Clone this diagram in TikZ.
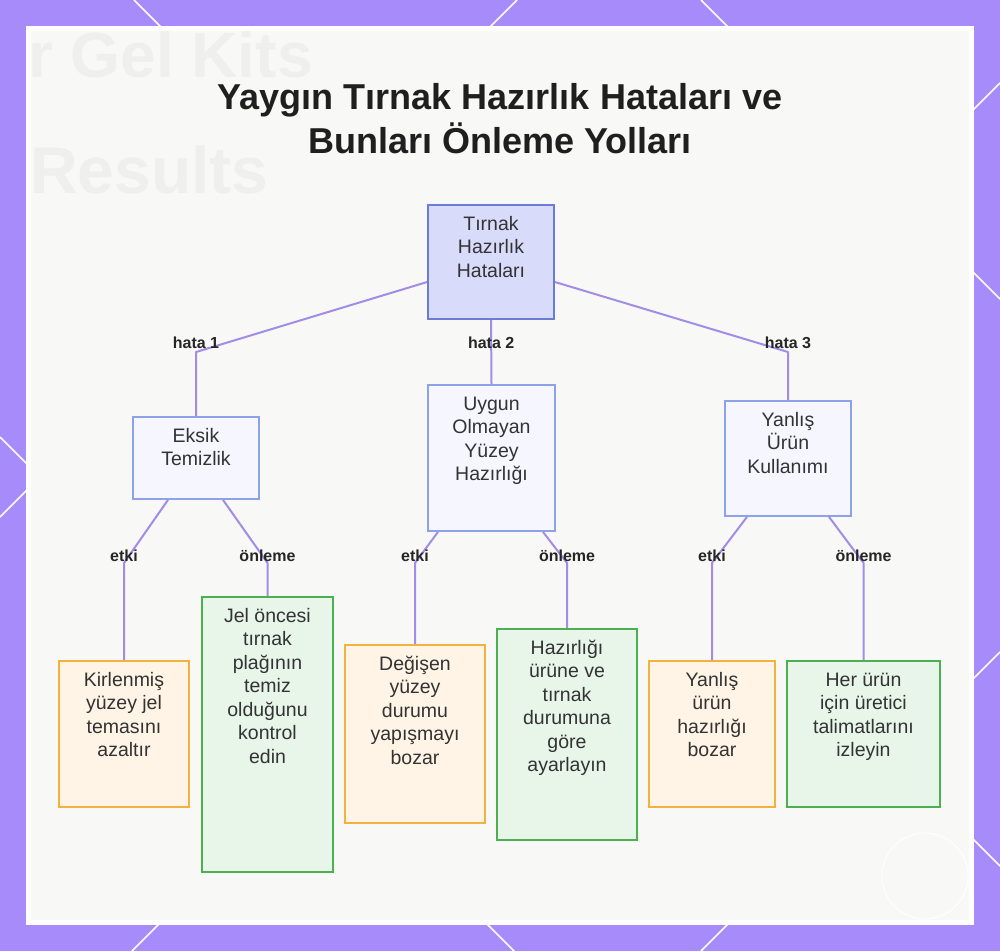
\documentclass[tikz,border=0pt]{standalone}
\usepackage{fontspec}
\setmainfont{Liberation Sans}
\usetikzlibrary{positioning}
\definecolor{cerceve}{HTML}{A78BFA}
\definecolor{zemin}{HTML}{F8F8F7}
\definecolor{silik}{HTML}{EFEFEE}
\definecolor{kenarrenk}{HTML}{A28DE6}
\definecolor{kokdolgu}{HTML}{D8DCFA}
\definecolor{kokcizgi}{HTML}{6A7BD8}
\definecolor{hatadolgu}{HTML}{F5F6FE}
\definecolor{hatacizgi}{HTML}{8DA2EA}
\definecolor{etkidolgu}{HTML}{FFF4E6}
\definecolor{etkicizgi}{HTML}{F3B23E}
\definecolor{onlemdolgu}{HTML}{E8F5E9}
\definecolor{onlemcizgi}{HTML}{4CAF50}
\definecolor{yazirenk}{HTML}{333333}
\tikzset{/Tirnak/kutu/.style={
	shape=rectangle, inner sep=0, line width=1.8pt
}}
\tikzset{/Tirnak/yazi/.style={
	anchor=north, yshift=-9.5pt, inner sep=0, align=center, text=yazirenk,
	font=\fontsize{19.5}{23.5}\selectfont
}}
\tikzset{/Tirnak/metin/.style={
	label={[/Tirnak/yazi]north:{\strut#1}}
}}
\tikzset{/Tirnak/kenar/.style={
	draw=kenarrenk, line width=2pt, line join=round
}}
\tikzset{/Tirnak/etiket/.style={
	inner sep=0, text=black!85, font=\fontsize{16}{19}\selectfont\bfseries
}}

\begin{document}
\begin{tikzpicture}[x=1pt,y=-1pt]
\useasboundingbox (0,0) rectangle (1000,951);
% frame
\fill[cerceve] (0,0) rectangle (1000,951);
\draw[white, line width=1.5pt] (134,0) -- (1000,866);
\draw[white, line width=1.5pt] (517,0) -- (0,517);
\draw[white, line width=1.5pt] (701,0) -- (1000,299);
\draw[white, line width=1.5pt] (1000,83) -- (132,951);
\draw[white, line width=1.5pt] (0,437) -- (514,951);
\draw[white, line width=1.5pt] (1000,652) -- (701,951);
\fill[white] (26,26) rectangle (974,925);
\fill[zemin] (31,31) rectangle (969,920);
\begin{scope}
\clip (31,31) rectangle (969,920);
\node[anchor=base west, inner sep=0, text=silik, font=\fontsize{64}{70}\selectfont\bfseries] (arka1) at (28,77) {r Gel Kits};
\node[anchor=base west, inner sep=0, text=silik, font=\fontsize{66}{72}\selectfont\bfseries] (arka2) at (30,193) {Results};
\end{scope}
\draw[white, line width=1pt] (925,876) circle (43);

\node[anchor=north, inner sep=0, align=center, text=black!88, font=\fontsize{36}{44}\selectfont\bfseries] (baslik) at (500,78.2) {\strut Yaygın Tırnak Hazırlık Hataları ve\\Bunları Önleme Yolları};

{%boxes
\node[/Tirnak/kutu, draw=kokcizgi, fill=kokdolgu, minimum width=126pt, minimum height=114pt, /Tirnak/metin={Tırnak\\Hazırlık\\Hataları}] (kok) at (491,262) {};
\node[/Tirnak/kutu, draw=hatacizgi, fill=hatadolgu, minimum width=126pt, minimum height=82pt, /Tirnak/metin={Eksik\\Temizlik}] (hata1) at (196,458) {};
\node[/Tirnak/kutu, draw=hatacizgi, fill=hatadolgu, minimum width=127pt, minimum height=146pt, /Tirnak/metin={Uygun\\Olmayan\\Yüzey\\Hazırlığı}] (hata2) at (491.5,458) {};
\node[/Tirnak/kutu, draw=hatacizgi, fill=hatadolgu, minimum width=126pt, minimum height=115pt, /Tirnak/metin={Yanlış\\Ürün\\Kullanımı}] (hata3) at (788,458.5) {};
\node[/Tirnak/kutu, draw=etkicizgi, fill=etkidolgu, minimum width=130pt, minimum height=146pt, /Tirnak/metin={Kirlenmiş\\yüzey jel\\temasını\\azaltır}] (etki1) at (124,734) {};
\node[/Tirnak/kutu, draw=onlemcizgi, fill=onlemdolgu, minimum width=131pt, minimum height=275pt, /Tirnak/metin={Jel öncesi\\tırnak\\plağının\\temiz\\olduğunu\\kontrol\\edin}] (onlem1) at (267.5,734.5) {};
\node[/Tirnak/kutu, draw=etkicizgi, fill=etkidolgu, minimum width=140pt, minimum height=178pt, /Tirnak/metin={Değişen\\yüzey\\durumu\\yapışmayı\\bozar}] (etki2) at (415,734) {};
\node[/Tirnak/kutu, draw=onlemcizgi, fill=onlemdolgu, minimum width=140pt, minimum height=211pt, /Tirnak/metin={Hazırlığı\\ürüne ve\\tırnak\\durumuna\\göre\\ayarlayın}] (onlem2) at (567,734.5) {};
\node[/Tirnak/kutu, draw=etkicizgi, fill=etkidolgu, minimum width=126pt, minimum height=146pt, /Tirnak/metin={Yanlış\\ürün\\hazırlığı\\bozar}] (etki3) at (712,734) {};
\node[/Tirnak/kutu, draw=onlemcizgi, fill=onlemdolgu, minimum width=153pt, minimum height=146pt, /Tirnak/metin={Her ürün\\için üretici\\talimatlarını\\izleyin}] (onlem3) at (863.5,734) {};
}

{%edges
\path[/Tirnak/kenar] ([yshift=-20pt]kok.west) -- (hata1.north |- 0,352) node[/Tirnak/etiket, yshift=9pt] {hata 1} -- (hata1.north);
\path[/Tirnak/kenar] (kok.south) -- (hata2.north) node[/Tirnak/etiket, pos=0.36] {hata 2};
\path[/Tirnak/kenar] ([yshift=-20pt]kok.east) -- (hata3.north |- 0,352) node[/Tirnak/etiket, yshift=9pt] {hata 3} -- (hata3.north);

\path[/Tirnak/kenar] ([xshift=-28pt]hata1.south) -- (etki1.north |- 0,563) node[/Tirnak/etiket, yshift=7pt] {etki} -- (etki1.north);
\path[/Tirnak/kenar] ([xshift=27pt]hata1.south) -- (onlem1.north |- 0,563) node[/Tirnak/etiket, yshift=7pt] {önleme} -- (onlem1.north);
\path[/Tirnak/kenar] ([xshift=-53.5pt]hata2.south) -- (etki2.north |- 0,563) node[/Tirnak/etiket, yshift=7pt] {etki} -- (etki2.north);
\path[/Tirnak/kenar] ([xshift=51.5pt]hata2.south) -- (onlem2.north |- 0,563) node[/Tirnak/etiket, yshift=7pt] {önleme} -- (onlem2.north);
\path[/Tirnak/kenar] ([xshift=-41pt]hata3.south) -- (etki3.north |- 0,563) node[/Tirnak/etiket, yshift=7pt] {etki} -- (etki3.north);
\path[/Tirnak/kenar] ([xshift=41pt]hata3.south) -- (onlem3.north |- 0,563) node[/Tirnak/etiket, yshift=7pt] {önleme} -- (onlem3.north);
}
\end{tikzpicture}
\end{document}
